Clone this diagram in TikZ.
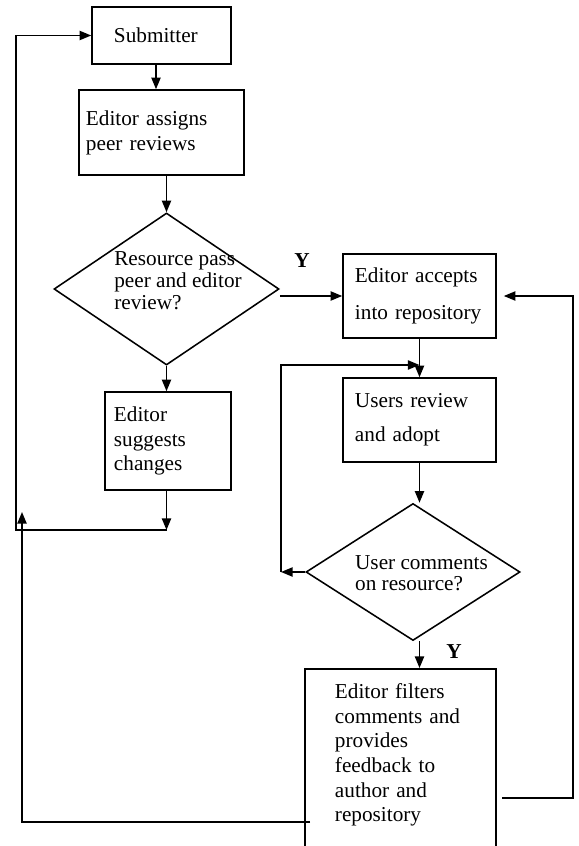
\documentclass[tikz,border=0pt]{standalone}
\usepackage{fontspec}
\setmainfont{Liberation Serif}
\usetikzlibrary{shapes.geometric}
\usetikzlibrary{arrows.meta}
\usetikzlibrary{positioning}
\newcommand{\fsz}[1]{\fontsize{15.1}{#1}\selectfont}

\begin{document}
\begin{tikzpicture}[x=0.025cm,y=-0.025cm,
  box/.style={draw,rectangle,line width=1.1pt,align=left,inner ysep=0pt},
  decision/.style={draw,diamond,line width=1.1pt,inner sep=0pt},
  dtext/.style={align=left,inner sep=0pt},
  arr/.style={line width=1.1pt,-{Triangle[length=0.29cm,width=0.23cm]}},
  ylab/.style={font=\fsz{18}\bfseries,inner sep=0pt}]
\useasboundingbox (0,0) rectangle (578,846);

% left column
\node[box,font=\fsz{17.8},minimum width=3.475cm,minimum height=1.425cm,text width=2.375cm,inner xsep=0.55cm] (sub) at (161.5,35.5) {Submitter};
\node[box,font=\fsz{17.8},minimum width=4.125cm,minimum height=2.125cm,text width=3.775cm,inner xsep=0.175cm] (assign) at (161.5,132.5) {Editor assigns\\peer reviews};
\node[decision,minimum width=5.625cm,minimum height=3.8cm] (pass) at (166.5,289) {};
\node[dtext,font=\fsz{15.6}] (passtxt) at (178,281) {Resource pass\\peer and editor\\review?};
\node[box,font=\fsz{17.4},minimum width=3.15cm,minimum height=2.45cm,text width=2.7cm,inner xsep=0.225cm] (suggest) at (168,441) {Editor\\suggests\\changes};

% right column
\node[box,font=\fsz{26.3},minimum width=3.825cm,minimum height=2.1cm,text width=3.225cm,inner xsep=0.3cm] (accept) at (419.5,296) {Editor accepts\\into repository};
\node[box,font=\fsz{24.2},minimum width=3.825cm,minimum height=2.1cm,text width=3.225cm,inner xsep=0.3cm] (review) at (419.5,420) {Users review\\and adopt};
\node[decision,minimum width=5.35cm,minimum height=3.425cm] (comm) at (413,572) {};
\node[dtext,font=\fsz{14.9}] (commtxt) at (421.5,573) {User comments\\on resource?};
\node[box,font=\fsz{17.5},anchor=north,minimum width=4.775cm,text width=3.275cm,inner xsep=0.75cm,inner ysep=0.375cm,text depth=5cm] (filter) at (400.5,668) {Editor filters\\comments and\\provides\\feedback to\\author and\\repository};

% connectors
\draw[arr] ([xshift=-0.1375cm]sub.south) -- ([xshift=-0.1375cm]sub.south |- assign.north);
\draw[arr] (pass.north |- assign.south) -- (pass.north);
\draw[arr] (pass.south) -- (pass.south |- suggest.north);
\coordinate (back) at (166.5,530);
\coordinate (backl) at (16,530);
\draw[arr] (pass.south |- suggest.south) -- (back);
\draw[arr] (back) -- (backl) |- (sub.west);
\coordinate (fb) at (310,822);
\coordinate (fbup) at (22,512);
\draw[arr] (fb) -| (fbup);

\draw[arr] (pass.east |- accept.west) -- (accept.west);
\node[ylab] (y1) at (302,261) {Y};
\draw[arr] (accept.south) -- (review.north);
\coordinate (loopl) at (281,572);
\coordinate (loopt) at (419.5,365);
\draw[arr] (comm.west) -- (loopl);
\draw[arr] (loopl) |- (loopt);
\draw[arr] (review.south) -- (review.south |- comm.north);
\draw[arr] (review.south |- comm.south) -- (review.south |- filter.north);
\node[ylab] (y2) at (454,652) {Y};
\coordinate (fr) at (502,798);
\coordinate (frx) at (573,798);
\draw[arr] (fr) -- (frx) |- ([xshift=0.175cm]accept.east);

\end{tikzpicture}
\end{document}
